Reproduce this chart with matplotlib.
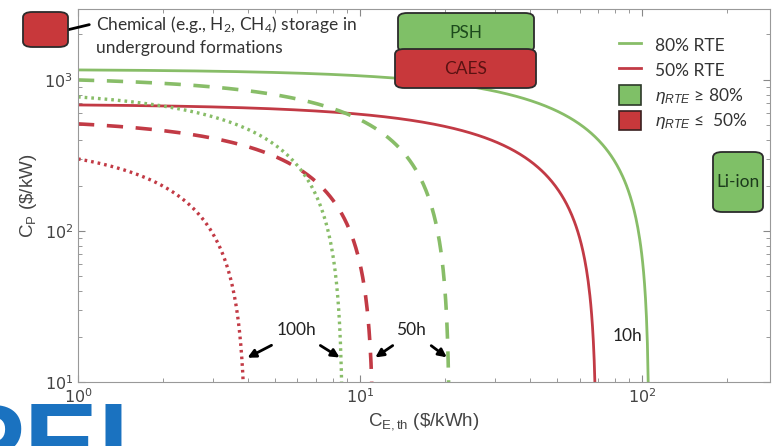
import numpy as np
import matplotlib.pyplot as plt
from matplotlib.lines import Line2D
from matplotlib.patches import Patch, FancyBboxPatch

plt.rcParams["mathtext.fontset"] = "custom"
plt.rcParams["mathtext.rm"] = "Liberation Sans"
plt.rcParams["mathtext.it"] = "Liberation Sans:italic"
plt.rcParams["mathtext.default"] = "regular"

# values:
# C_P at C_E = 1 $/kWh (left edge) and C_E where the curve falls to zero
hours = ["10h", "50h", "100h"]
cp1_80 = [1165, 1000, 772]
ce0_80 = [106, 20.8, 8.7]
cp1_50 = [683, 512, 300]
ce0_50 = [69, 11.2, 3.95]
styles = ["-", (0, (4.5, 3.5)), (0, (0.8, 1.2))]
widths = [2.0, 2.6, 2.4]

green = "#88bd68"
red = "#c23a45"
box_green = "#7fc067"
box_red = "#c8383b"

W, H = 777, 446
fig = plt.figure(figsize=(W / 100, H / 100), dpi=100)
ax = fig.add_axes([78 / W, 1 - 382 / H, (770 - 78) / W, (382 - 9) / H])


def curve(cp1, ce0):
    # straight cost line in linear space: C_P falls to zero at ce0
    cp0 = cp1 * ce0 / (ce0 - 1)
    ce = np.logspace(0, np.log10(ce0 * (1 - 9 / cp0)), 600)
    cp = cp0 * (1 - ce / ce0)
    return ce, cp


for i in range(3):
    x, y = curve(cp1_80[i], ce0_80[i])
    ax.plot(x, y, color=green, ls=styles[i], lw=widths[i])
    x, y = curve(cp1_50[i], ce0_50[i])
    ax.plot(x, y, color=red, ls=styles[i], lw=widths[i])

ax.set_xscale("log")
ax.set_yscale("log")
ax.set_xlim(1, 284)
ax.set_ylim(10, 2950)
ax.tick_params(which="both", direction="in", top=True, right=True,
               colors="#888888", labelcolor="#444444", labelsize=11.5)
ax.tick_params(which="major", length=5)
ax.tick_params(which="minor", length=3)
for s in ax.spines.values():
    s.set_color("#999999")

ax.set_xlabel(r"C$_{E,th}$ (\$/kWh)", fontsize=13.5, family="Liberation Sans",
              color="#444444", labelpad=4)
ax.set_ylabel(r"C$_P$ (\$/kW)", fontsize=13.5, family="Liberation Sans",
              color="#444444", labelpad=4)

# legend
handles = [Line2D([], [], color=green, lw=2),
           Line2D([], [], color=red, lw=2),
           Patch(facecolor=box_green, edgecolor="#2d3a2a", lw=1.2),
           Patch(facecolor=box_red, edgecolor="#3a2020", lw=1.2)]
labels = ["80% RTE", "50% RTE", r"$\mathit{\eta_{RTE}}$ ≥ 80%",
          r"$\mathit{\eta_{RTE}}$ ≤  50%"]
leg = fig.legend(handles, labels, loc="upper left",
                 bbox_to_anchor=(603 / W, 1 - 20 / H), frameon=False,
                 handlelength=1.3, handleheight=1.35,
                 labelspacing=0.3, handletextpad=0.8,
                 prop={"family": "Lato", "size": 12.5})
for t in leg.get_texts():
    t.set_color("#333333")


def fbox(x0, y0, x1, y1, fc, text="", tc="k", fs=12.5):
    p = FancyBboxPatch((x0 / W, 1 - y1 / H), (x1 - x0) / W, (y1 - y0) / H,
                       boxstyle="round,pad=0,rounding_size=0.012",
                       transform=fig.transFigure, fc=fc, ec="#2b2b2b",
                       lw=1.3, zorder=5)
    fig.add_artist(p)
    if text:
        fig.text((x0 + x1) / 2 / W, 1 - (y0 + y1) / 2 / H, text, color=tc,
                 fontsize=fs, ha="center", va="center", family="Lato",
                 zorder=6)


fbox(23, 12, 68, 47, box_red)
fbox(398, 13, 534, 52, box_green, "PSH", "#1c4a1c")
fbox(395, 49, 536, 88, box_red, "CAES", "#5a1212")
fbox(713, 152, 763, 212, box_green, "Li-ion", "#1c3a1c", fs=12.5)

fig.text(96 / W, 1 - 35 / H,
         "Chemical (e.g., H$_2$, CH$_4$) storage in\nunderground formations",
         fontsize=12.5, color="#333333", family="Lato", va="center",
         linespacing=1.35)


def arrow(x0, y0, x1, y1):
    ax.annotate("", xy=(x1 / W, 1 - y1 / H), xytext=(x0 / W, 1 - y0 / H),
                xycoords="figure fraction", textcoords="figure fraction",
                arrowprops=dict(arrowstyle="-|>", color="k", lw=2,
                                mutation_scale=12), zorder=7)


arrow(92, 24, 46, 35)
arrow(274, 344, 245, 359)
arrow(318, 344, 342, 359)
arrow(395, 344, 373, 359)
arrow(429, 344, 449, 359)

for lab, xp, yp in zip(hours, [628, 411, 297], [336, 330, 330]):
    fig.text(xp / W, 1 - yp / H, lab, fontsize=12.5, color="#222222",
             family="Lato", ha="center", va="center")

# logo fragment at the bottom left
fig.text(-49 / W, 1 - 481 / H, "PEI", fontsize=80, color="#1a72c0",
         family="Liberation Sans", weight="bold", va="baseline", ha="left")

fig.savefig("out.png", dpi=100)
